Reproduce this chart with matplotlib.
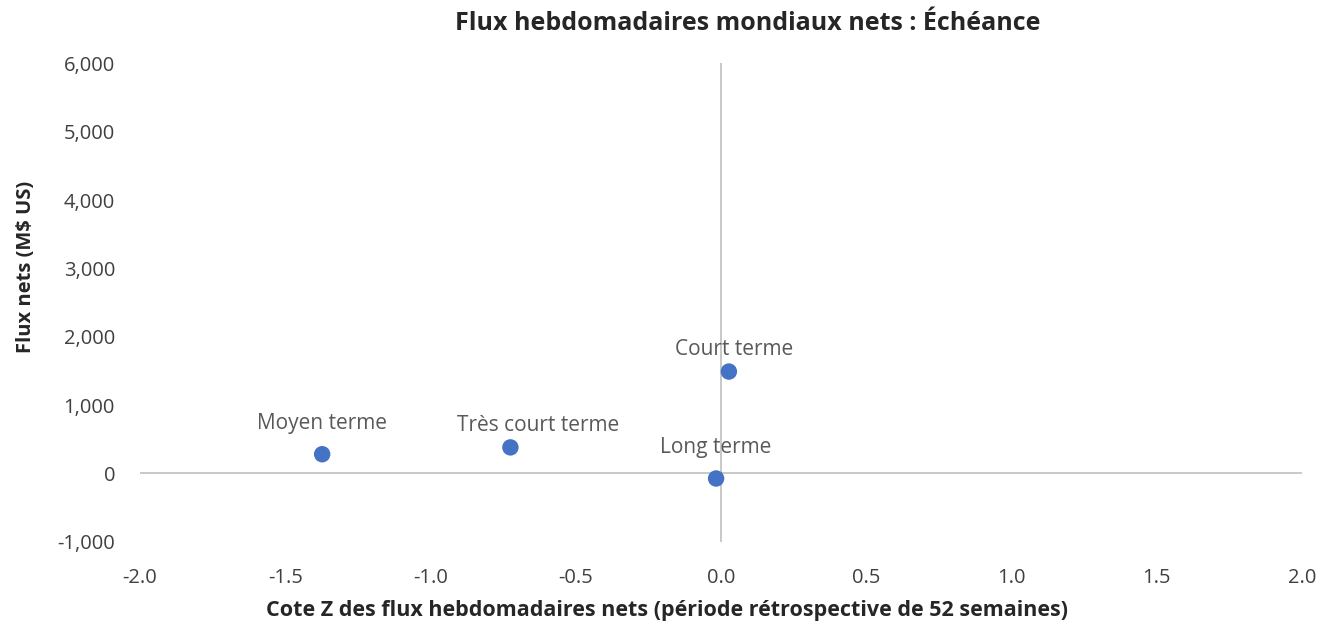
import matplotlib.pyplot as plt
import matplotlib
from matplotlib.ticker import FuncFormatter

matplotlib.rc("font", family=["Open Sans", "DejaVu Sans"])

# data
labels = ['Court terme', 'Moyen terme', 'Très court terme', 'Long terme']
zscore = [0.027, -1.373, -0.725, -0.017]
flows = [1490, 280, 380, -75]

fig = plt.figure(figsize=(13.36, 6.26), dpi=100)
ax = fig.add_axes([0.1048, 0.1347, 0.8698, 0.764])

ax.axhline(0, color='#bfbfbf', lw=1.2, zorder=1)
ax.axvline(0, color='#bfbfbf', lw=1.2, zorder=1)
ax.scatter(zscore, flows, s=140, color='#4472c4', zorder=3, edgecolors='none')

# label offsets (px) so they sit like the original
offs = [(5, 22), (0, 31), (28, 22), (0, 31)]
for name, x, y, (dx, dy) in zip(labels, zscore, flows, offs):
    ax.annotate(name, (x, y), xytext=(dx * 0.72, dy * 0.72), textcoords='offset points',
                ha='center', va='center', fontsize=15, color='#595959')

ax.set_xlim(-2, 2)
ax.set_ylim(-1000, 6000)
ax.set_xticks([-2.0, -1.5, -1.0, -0.5, 0.0, 0.5, 1.0, 1.5, 2.0])
ax.set_yticks(range(-1000, 6001, 1000))
ax.xaxis.set_major_formatter(FuncFormatter(lambda v, p: '%.1f' % v))
ax.yaxis.set_major_formatter(FuncFormatter(lambda v, p: '{:,.0f}'.format(v)))
for s in ax.spines.values():
    s.set_visible(False)
ax.tick_params(length=0, labelsize=14.5, colors='#404040')
ax.tick_params(axis='x', pad=19)
ax.tick_params(axis='y', pad=18)

ax.set_xlabel('Cote Z des flux hebdomadaires nets (période rétrospective de 52 semaines)',
              fontsize=15.5, fontweight='bold', color='#262626')
ax.xaxis.set_label_coords(0.4535, -0.122)
ax.set_ylabel('Flux nets (M$ US)', fontsize=14.5, fontweight='bold', color='#262626')
ax.yaxis.set_label_coords(-0.0895, 0.574)
fig.suptitle('Flux hebdomadaires mondiaux nets : Échéance', x=0.56, y=0.982,
             fontsize=18, fontweight='bold', color='#262626')

fig.savefig('out.png', dpi=100)
